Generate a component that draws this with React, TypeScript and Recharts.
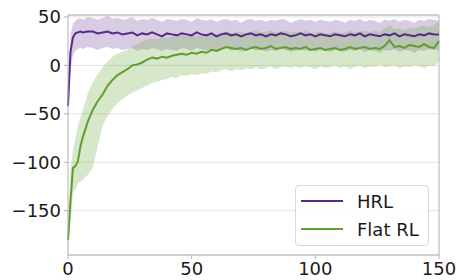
import React from 'react';
import {
    ComposedChart,
    Area,
    Line,
    XAxis,
    YAxis,
    CartesianGrid,
    ReferenceLine,
} from 'recharts';

// training iterations
const steps = [
    0, 1, 2, 3, 4, 5, 6, 8, 10, 12, 14, 16, 18, 20, 22, 24, 26, 28, 30, 32, 34, 36, 38, 40,
    42, 44, 46, 48, 50, 52, 54, 56, 58, 60, 62, 64, 66, 68, 70, 72, 74, 76, 78, 80, 82, 84,
    86, 88, 90, 92, 94, 96, 98, 100, 102, 104, 106, 108, 110, 112, 114, 116, 118, 120, 122,
    124, 126, 128, 130, 132, 134, 136, 138, 140, 142, 144, 146, 148, 150,
];

const hrlMean = [
    -42, 14, 29, 33, 34, 35, 34, 35, 35, 33, 34, 35, 33, 34, 32, 33, 34, 31, 33, 32, 34, 32, 30, 33,
    32, 31, 33, 32, 31, 34, 32, 31, 33, 30, 32, 33, 31, 32, 30, 32, 33, 31, 32, 30, 32, 31,
    33, 32, 30, 31, 33, 31, 32, 30, 32, 31, 30, 32, 31, 30, 32, 31, 33, 30, 32,
    31, 30, 32, 31, 33, 30, 32, 31, 30, 32, 31, 33, 32, 32,
];
const hrlLow = [
    -52, -5, 10, 15, 17, 18, 17, 19, 18, 16, 18, 19, 17, 18, 16, 17, 18, 15, 17, 16, 18, 17, 15, 17,
    16, 15, 18, 17, 15, 18, 17, 15, 17, 14, 16, 18, 15, 17, 14, 16, 18, 15, 17, 14, 16, 15,
    18, 16, 14, 15, 17, 15, 16, 14, 16, 15, 14, 16, 15, 14, 16, 15, 17, 14, 16,
    15, 13, 16, 15, 17, 14, 16, 15, 13, 16, 15, 17, 16, 16,
];
const hrlHigh = [
    -30, 32, 43, 46, 48, 49, 47, 50, 49, 47, 49, 51, 48, 49, 47, 48, 50, 46, 48, 47, 49, 47, 45, 48,
    47, 46, 48, 47, 45, 49, 47, 46, 48, 45, 47, 48, 46, 47, 44, 47, 48, 46, 47, 45, 47, 46,
    48, 47, 44, 46, 48, 46, 47, 45, 47, 46, 45, 47, 46, 44, 47, 46, 48, 45, 47,
    46, 44, 47, 46, 48, 45, 47, 46, 44, 47, 46, 48, 47, 46,
];

const flatMean = [
    -180, -140, -106, -104, -99, -84, -74, -58, -46, -37, -30, -21, -15, -10, -7, -4, 0, 1, 3, 6, 8, 7, 9, 8,
    10, 11, 12, 11, 13, 12, 14, 13, 16, 15, 17, 19, 18, 17, 18, 16, 18, 19, 17, 18, 20, 17,
    18, 19, 17, 18, 17, 19, 16, 17, 18, 16, 17, 18, 16, 17, 19, 17, 18, 19, 17,
    18, 17, 20, 26, 19, 20, 18, 21, 20, 19, 22, 19, 18, 25,
];
const flatLow = [
    -195, -165, -132, -128, -122, -120, -118, -113, -106, -84, -62, -52, -45, -39, -35, -31, -28, -26, -23, -21, -18, -17, -15, -14,
    -12, -13, -10, -11, -9, -10, -8, -9, -6, -7, -5, -4, -6, -4, -5, -3, -4, -2, -4, -3, -1, -4,
    -2, -1, -3, -1, -3, -1, -2, -4, -1, -3, -2, 0, -3, -1, -4, -2, 0, -3, -1,
    -2, 1, -2, -1, 0, -3, -1, -2, 0, -1, -3, 0, -1, 4,
];
const flatHigh = [
    -165, -108, -88, -76, -62, -54, -46, -29, -18, -9, -2, 4, 9, 12, 14, 16, 19, 22, 25, 26, 28, 27, 29, 28,
    30, 29, 31, 30, 31, 30, 32, 31, 33, 32, 34, 35, 33, 34, 35, 33, 35, 36, 34, 35, 36, 34,
    35, 36, 34, 35, 34, 36, 33, 34, 35, 33, 34, 35, 33, 34, 36, 34, 35, 36, 34,
    36, 35, 38, 42, 37, 38, 36, 39, 38, 40, 41, 39, 42, 45,
];

const xTicks = [0, 50, 100, 150];
const yTicks = [-150, -100, -50, 0, 50];

const data = steps.map((x, i) => ({
    x,
    hrl: hrlMean[i],
    hrlBand: [hrlLow[i], hrlHigh[i]],
    flat: flatMean[i],
    flatBand: [flatLow[i], flatHigh[i]],
}));

const PURPLE = '#57298a';
const GREEN = '#5f9e2f';
const AXIS = '#b0b0b0';
const font = { fill: '#1a1a1a', fontSize: 18, fontFamily: 'DejaVu Sans' };

export default function App() {
    return (
        <div style={{ position: 'absolute', left: 0, top: 0, width: 461, height: 280, background: '#fff' }}>
            <ComposedChart width={461} height={280} data={data} margin={{ top: 15, right: 22, left: 0, bottom: 0 }}>
                <CartesianGrid vertical={false} stroke="#e3e3e3" />
                <XAxis
                    dataKey="x"
                    type="number"
                    domain={[0, 150]}
                    ticks={xTicks}
                    height={25}
                    tickSize={4}
                    tickMargin={3}
                    stroke={AXIS}
                    tick={font}
                />
                <YAxis
                    type="number"
                    domain={[-195.7, 52]}
                    ticks={yTicks}
                    allowDataOverflow
                    width={68}
                    tickSize={4}
                    tickMargin={3}
                    stroke={AXIS}
                    tick={font}
                    tickFormatter={(v: number) => String(v).replace('-', '\u2212')}
                />
                <ReferenceLine y={52} stroke={AXIS} />
                <ReferenceLine x={150} stroke={AXIS} />
                <Area type="linear" dataKey="hrlBand" stroke="none" fill="#7e57a8" fillOpacity={0.3} isAnimationActive={false} />
                <Area type="linear" dataKey="flatBand" stroke="none" fill="#6eaa3c" fillOpacity={0.28} isAnimationActive={false} />
                <Line type="linear" dataKey="hrl" stroke={PURPLE} strokeWidth={2} dot={false} isAnimationActive={false} />
                <Line type="linear" dataKey="flat" stroke={GREEN} strokeWidth={2} dot={false} isAnimationActive={false} />
            </ComposedChart>

            {/* legend */}
            <div
                style={{
                    position: 'absolute',
                    left: 295,
                    top: 185,
                    width: 132,
                    height: 59,
                    border: '1px solid #d9d9d9',
                    borderRadius: 4,
                    background: 'rgba(255,255,255,0.8)',
                    fontFamily: 'DejaVu Sans',
                    fontSize: 18,
                    color: '#1a1a1a',
                }}
            >
                {[
                    { name: 'HRL', color: PURPLE, y: 15 },
                    { name: 'Flat RL', color: GREEN, y: 43 },
                ].map((item) => (
                    <div key={item.name} style={{ position: 'absolute', left: 0, top: item.y - 12, height: 24, display: 'flex', alignItems: 'center' }}>
                        <span style={{ display: 'inline-block', marginLeft: 5, width: 42, height: 2, background: item.color }} />
                        <span style={{ marginLeft: 14, whiteSpace: 'nowrap' }}>{item.name}</span>
                    </div>
                ))}
            </div>
        </div>
    );
}
